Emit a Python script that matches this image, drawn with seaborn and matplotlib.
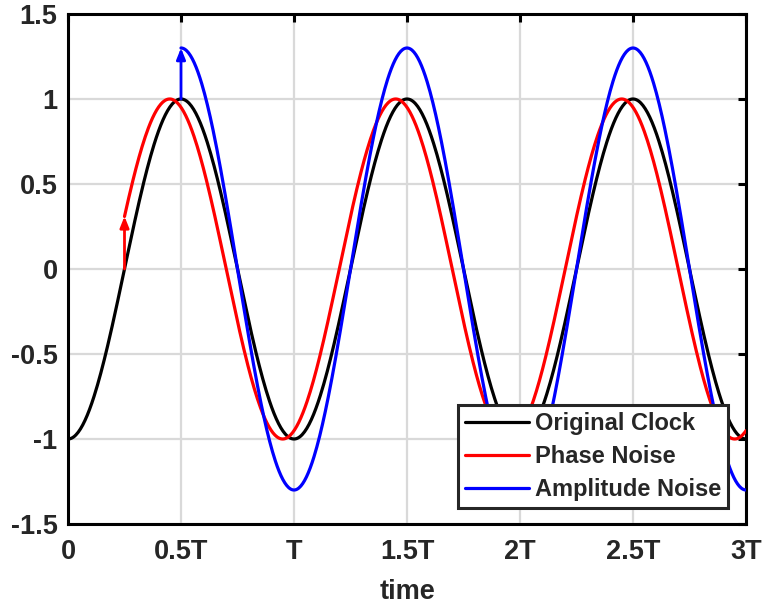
import numpy as np
import pandas as pd
import matplotlib
matplotlib.use("Agg")
import matplotlib.pyplot as plt
import seaborn as sns

# Series definitions: clock = -A*cos(2*pi*(t + shift)), starting at t_start
series_names = ["Original Clock", "Phase Noise", "Amplitude Noise"]
series_colors = ["#000000", "#ff0000", "#0000ff"]
amplitudes = [1.0, 1.0, 1.3]
phase_shifts = [0.0, 0.05, 0.0]      # in periods T
start_times = [0.0, 0.25, 0.5]       # in periods T
# Noise-event arrows: x, y_from, y_to
arrow_x = [0.25, 0.5]
arrow_y0 = [0.0, 1.0]
arrow_y1 = [0.31, 1.3]
arrow_colors = ["#ff0000", "#0000ff"]

x_ticks = [0, 0.5, 1, 1.5, 2, 2.5, 3]
x_tick_labels = ["0", "0.5T", "T", "1.5T", "2T", "2.5T", "3T"]
y_ticks = [-1.5, -1, -0.5, 0, 0.5, 1, 1.5]
y_tick_labels = ["-1.5", "-1", "-0.5", "0", "0.5", "1", "1.5"]

sns.set_theme(style="white")
plt.rcParams['font.family'] = ['Liberation Sans', 'DejaVu Sans']
plt.rcParams['font.weight'] = 'bold'

fig = plt.figure(figsize=(7.62, 6.06), dpi=100)
ax = fig.add_axes([68/762, 1-524/606, (746-68)/762, (524-14)/606])

frames = []
for name, a, s, t0 in zip(series_names, amplitudes, phase_shifts, start_times):
    t = np.linspace(t0, 3.0, 600)
    frames.append(pd.DataFrame({"t": t, "v": -a*np.cos(2*np.pi*(t + s)), "series": name}))
df = pd.concat(frames, ignore_index=True)

sns.lineplot(data=df, x="t", y="v", hue="series", hue_order=series_names,
             palette=dict(zip(series_names, series_colors)), linewidth=2.3,
             ax=ax, sort=False, estimator=None, zorder=3)

for x, y0, y1, c in zip(arrow_x, arrow_y0, arrow_y1, arrow_colors):
    ax.annotate("", xy=(x, y1), xytext=(x, y0),
                arrowprops=dict(arrowstyle="-|>,head_length=0.55,head_width=0.22",
                                color=c, lw=2.0, shrinkA=0, shrinkB=0), zorder=4)

ax.set_xlim(0, 3)
ax.set_ylim(-1.5, 1.5)
ax.set_xticks(x_ticks)
ax.set_xticklabels(x_tick_labels)
ax.set_yticks(y_ticks)
ax.set_yticklabels(y_tick_labels)
ax.grid(True, color="#d9d9d9", linewidth=1.6, zorder=0)
ax.set_axisbelow(True)
for sp in ax.spines.values():
    sp.set_visible(True)
    sp.set_color("black")
    sp.set_linewidth(2.2)
ax.tick_params(axis="both", direction="in", length=6, width=2.2, color="black",
               labelsize=19.5, top=True, right=True, labelcolor="#262626")
ax.tick_params(axis="x", pad=11)
ax.tick_params(axis="y", pad=7.5)
for lab in ax.get_xticklabels() + ax.get_yticklabels():
    lab.set_fontweight("bold")
ax.set_xlabel("time", fontsize=19.5, fontweight="bold", color="#262626", labelpad=10)
ax.set_ylabel("")

leg = ax.legend(loc="lower right", fontsize=17, frameon=True, fancybox=False,
                edgecolor="#262626", borderpad=0.3, handlelength=2.7,
                handletextpad=0.25, labelspacing=0.42, borderaxespad=0,
                bbox_to_anchor=(0.9735, 0.031))
leg.get_frame().set_linewidth(2.2)
leg.get_frame().set_alpha(1)
for txt in leg.get_texts():
    txt.set_fontweight("bold")
for line in leg.get_lines():
    line.set_linewidth(2.3)

fig.savefig("out.png", dpi=100)
